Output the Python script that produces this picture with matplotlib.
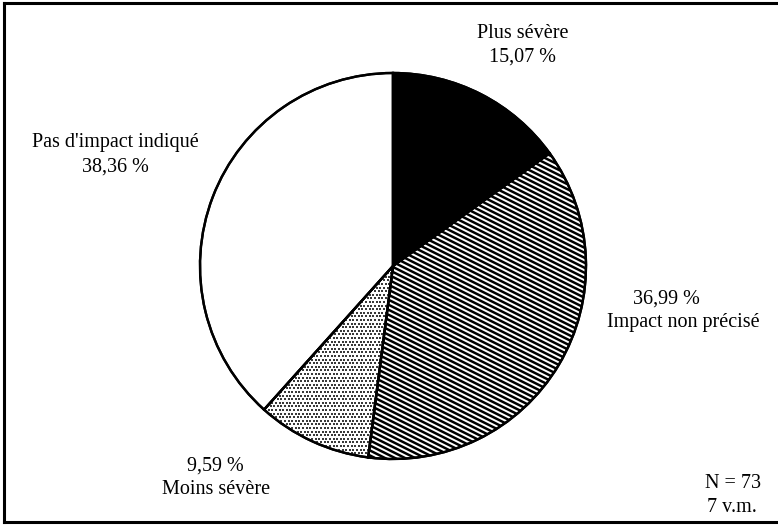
import numpy as np
import matplotlib
matplotlib.use("Agg")
import matplotlib.pyplot as plt
from matplotlib.lines import Line2D
from matplotlib.patches import Wedge

# ---- data ----
categories = ["Plus sévère", "Impact non précisé", "Moins sévère", "Pas d'impact indiqué"]
values = [15.07, 36.99, 9.59, 38.36]
value_labels = ["15,07 %", "36,99 %", "9,59 %", "38,36 %"]
note_lines = ["N = 73", "7 v.m."]

W, H = 778, 529
DPI = 100
plt.rcParams['font.family'] = ['Liberation Serif', 'DejaVu Serif']

fig = plt.figure(figsize=(W / DPI, H / DPI), dpi=DPI)
ax = fig.add_axes([0, 0, 1, 1])

# pie geometry in pixels
cx, cy, R = 393, 266, 193

wedges, _ = ax.pie(values, startangle=90, counterclock=False,
                   colors=["black", "white", "white", "white"],
                   wedgeprops=dict(edgecolor="black", linewidth=1.7),
                   radius=1.0)
ax.set_xlim(-cx / R, (W - cx) / R)
ax.set_ylim(-(H - cy) / R, cy / R)
ax.set_aspect('auto')
ax.axis('off')

# diagonal stripes for "Impact non précisé"
px = 1.0 / R
slope = -0.5
period = 5 * px
xs = np.array([-1.2, 1.2])
for c in np.arange(-2.0, 2.0, period):
    ln, = ax.plot(xs, slope * xs + c, color="black", lw=1.8, solid_capstyle='butt', zorder=3)
    ln.set_clip_path(wedges[1])

# stipple for "Moins sévère"
pitch = 3.6 * px
gx, gy = [], []
for j, yv in enumerate(np.arange(-1.1, 0.2, pitch)):
    off = (pitch / 2) if j % 2 else 0
    for xv in np.arange(-1.1, 0.3, pitch):
        gx.append(xv + off)
        gy.append(yv)
sc = ax.scatter(gx, gy, s=1.2, marker='s', color="#3a3a3a", linewidths=0, zorder=3)
sc.set_clip_path(wedges[2])

# re-draw outlines on top
for w in wedges:
    ax.add_patch(Wedge(w.center, w.r, w.theta1, w.theta2,
                       facecolor='none', edgecolor='black',
                       linewidth=1.7, zorder=4))


def P(x, y):
    return ((x - cx) / R, (cy - y) / R)


fs = 14.5
ax.text(*P(523, 33), categories[0], ha='center', va='center', fontsize=fs)
ax.text(*P(523, 57), value_labels[0], ha='center', va='center', fontsize=fs)
ax.text(*P(666, 299), value_labels[1], ha='center', va='center', fontsize=fs)
ax.text(*P(683, 323), categories[1], ha='center', va='center', fontsize=fs)
ax.text(*P(215, 466), value_labels[2], ha='center', va='center', fontsize=fs)
ax.text(*P(216, 490), categories[2], ha='center', va='center', fontsize=fs)
ax.text(*P(115, 143), categories[3], ha='center', va='center', fontsize=fs)
ax.text(*P(115, 167), value_labels[3], ha='center', va='center', fontsize=fs)
ax.text(*P(733, 483), note_lines[0], ha='center', va='center', fontsize=fs)
ax.text(*P(732, 507), note_lines[1], ha='center', va='center', fontsize=fs)


# outer frame (pixel coords -> figure fraction)
def F(x, y):
    return (x / W, 1 - y / H)


for (x0, y0), (x1, y1) in [((4, 3), (778, 3)), ((4, 3), (4, 522)), ((4, 522), (778, 522))]:
    a, b = F(x0, y0), F(x1, y1)
    fig.add_artist(Line2D([a[0], b[0]], [a[1], b[1]], color='black', lw=2.2))

fig.savefig("out.png", dpi=DPI)
